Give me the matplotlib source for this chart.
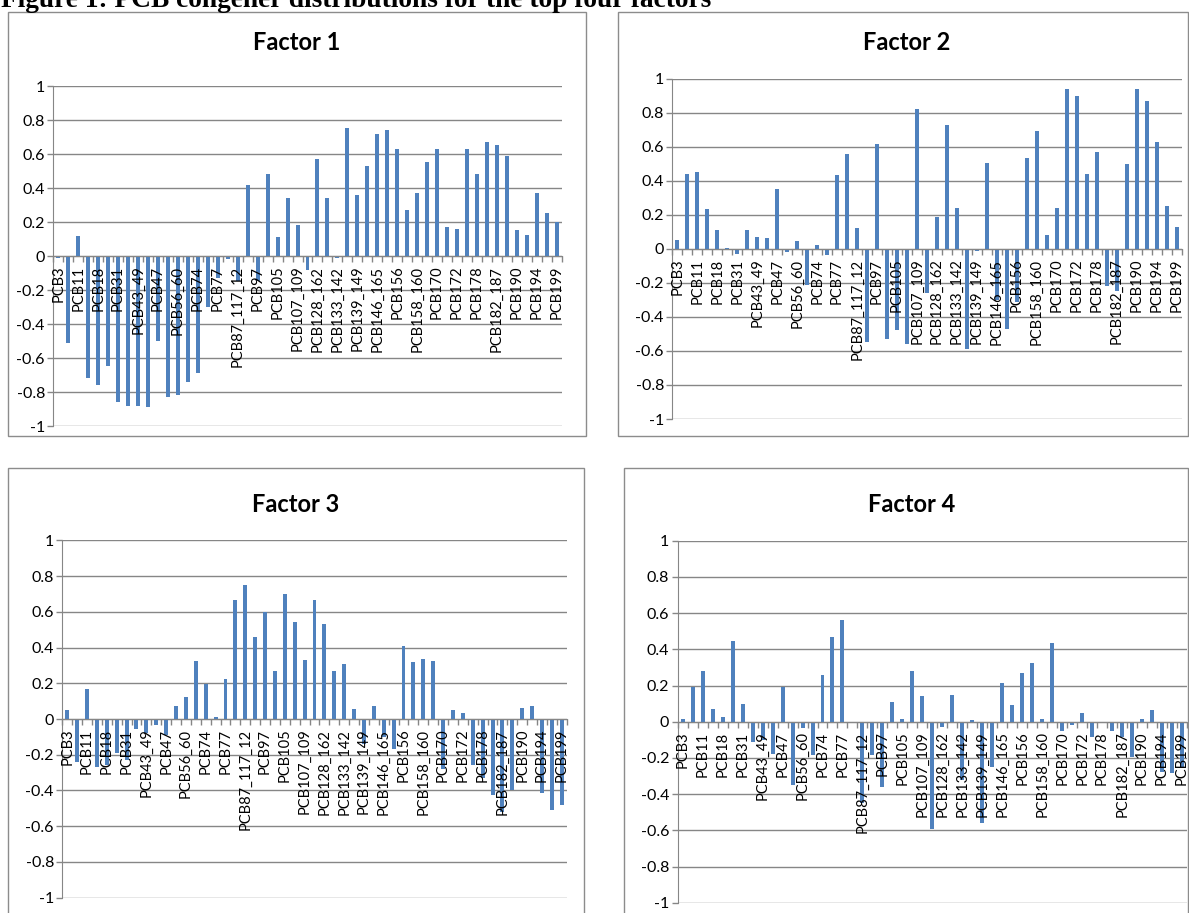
import matplotlib
matplotlib.use('Agg')
import matplotlib.pyplot as plt
from matplotlib.patches import Rectangle

plt.rcParams['font.family'] = ['Lato', 'DejaVu Sans']
plt.rcParams['axes.unicode_minus'] = False

congeners = ['PCB3', 'PCB8', 'PCB11', 'PCB15', 'PCB18', 'PCB28', 'PCB31', 'PCB37',
             'PCB43_49', 'PCB44', 'PCB47', 'PCB52', 'PCB56_60', 'PCB66', 'PCB74', 'PCB75',
             'PCB77', 'PCB81', 'PCB87_117_12', 'PCB95', 'PCB97', 'PCB99', 'PCB105', 'PCB106',
             'PCB107_109', 'PCB118', 'PCB128_162', 'PCB132', 'PCB133_142', 'PCB136',
             'PCB139_149', 'PCB141', 'PCB146_165', 'PCB151', 'PCB156', 'PCB157',
             'PCB158_160', 'PCB167', 'PCB170', 'PCB171', 'PCB172', 'PCB174', 'PCB178',
             'PCB180', 'PCB182_187', 'PCB183', 'PCB190', 'PCB191', 'PCB194', 'PCB195', 'PCB199']

factor1 = [-0.01, -0.51, 0.12, -0.72, -0.76, -0.65, -0.86, -0.88, -0.88, -0.89,
           -0.50, -0.83, -0.82, -0.74, -0.69, -0.30, -0.13, -0.015, -0.15, 0.42,
           -0.15, 0.48, 0.11, 0.34, 0.18, -0.08, 0.57, 0.34, -0.01, 0.755,
           0.36, 0.53, 0.72, 0.74, 0.63, 0.27, 0.37, 0.55, 0.63, 0.17,
           0.16, 0.63, 0.48, 0.67, 0.655, 0.59, 0.15, 0.125, 0.37, 0.25, 0.20]

factor2 = [0.053, 0.44, 0.45, 0.237, 0.11, 0.005, -0.03, 0.11, 0.07, 0.063,
           0.35, -0.017, 0.047, -0.21, 0.025, -0.037, 0.433, 0.56, 0.123, -0.55,
           0.615, -0.527, -0.476, -0.557, 0.82, -0.262, 0.186, 0.727, 0.243, -0.59,
           -0.014, 0.504, -0.30, -0.472, -0.31, 0.533, 0.694, 0.082, 0.243, 0.94,
           0.898, 0.44, 0.567, -0.217, -0.25, 0.498, 0.94, 0.87, 0.63, 0.25, 0.131]

factor3 = [0.05, -0.24, 0.166, -0.27, -0.26, -0.19, -0.23, -0.055, -0.08, -0.035,
           -0.09, 0.07, 0.123, 0.323, 0.198, 0.009, 0.222, 0.664, 0.752, 0.457,
           0.599, 0.27, 0.698, 0.543, 0.33, 0.664, 0.53, 0.27, 0.31, 0.056,
           -0.14, 0.075, -0.10, -0.168, 0.41, 0.317, 0.336, 0.323, -0.28, 0.05,
           0.035, -0.256, -0.33, -0.427, -0.52, -0.395, 0.062, 0.075, -0.414, -0.507, -0.48]

factor4 = [0.017, 0.193, 0.28, 0.068, 0.024, 0.447, 0.1, -0.114, -0.1, -0.18,
           0.193, -0.35, -0.033, -0.185, 0.26, 0.466, 0.56, -0.008, -0.45, -0.186,
           -0.363, 0.11, 0.013, 0.28, 0.142, -0.595, -0.028, 0.147, -0.32, 0.011,
           -0.562, -0.249, 0.215, 0.09, 0.269, 0.322, 0.017, 0.433, -0.052, -0.02,
           0.05, -0.087, -0.007, -0.052, -0.087, -0.197, 0.017, 0.063, -0.276, -0.285, -0.25]

titles = ['Factor 1', 'Factor 2', 'Factor 3', 'Factor 4']
yticks = [-1, -0.8, -0.6, -0.4, -0.2, 0, 0.2, 0.4, 0.6, 0.8, 1]

W, H = 1189, 913
fig = plt.figure(figsize=(W / 100, H / 100), dpi=100)
fig.patch.set_facecolor('white')

BLUE = '#4F81BD'
GREY = '#868686'

# pixel boxes: chart frame (x0, y0, x1, y1), plot area (x0, y0, x1, y1), title centre
frames = [(7.5, 12, 586, 436), (618, 12, 1188, 436), (7.5, 468, 584, 940), (623.5, 468, 1188, 940)]
areas = [(53.3, 86, 561.7, 426), (672.3, 78.7, 1181.7, 419),
         (62.3, 540.3, 566.7, 897.7), (677.7, 540.7, 1187, 902.7)]
tpos = [(297, 42), (907, 42), (296, 504), (912, 504)]


def px(x0, y0, x1, y1):
    return [x0 / W, 1 - y1 / H, (x1 - x0) / W, (y1 - y0) / H]


for i, vals in enumerate([factor1, factor2, factor3, factor4]):
    fx0, fy0, fx1, fy1 = frames[i]
    fig.patches.append(Rectangle((fx0 / W, 1 - fy1 / H), (fx1 - fx0) / W, (fy1 - fy0) / H,
                                 transform=fig.transFigure, fill=False,
                                 edgecolor='#8C8C8C', lw=1.0))
    ax = fig.add_axes(px(*areas[i]))
    ax.set_facecolor('none')
    n = len(congeners)
    ax.bar(range(n), vals, width=0.4, color=BLUE, zorder=2)
    ax.set_xlim(-0.5, n - 0.5)
    ax.set_ylim(-1, 1)

    # spine move first: it rebuilds the ticks
    for s in ['top', 'right']:
        ax.spines[s].set_visible(False)
    ax.spines['bottom'].set_position(('data', 0))
    ax.spines['bottom'].set_color(GREY)
    ax.spines['left'].set_color(GREY)

    # grid below the bars, category labels above them
    ax.yaxis.set_zorder(0.5)
    ax.xaxis.set_zorder(3)
    ax.set_yticks(yticks)
    ax.set_yticklabels(['%g' % v for v in yticks], fontsize=11.5)
    ax.grid(axis='y', color=GREY, lw=1.0)
    ax.tick_params(axis='y', length=4, width=1, color=GREY, pad=2)

    ax.set_xticks([k - 0.5 for k in range(n + 1)])
    ax.set_xticklabels([])
    ax.set_xticks(range(0, n, 2), minor=True)
    ax.set_xticklabels(congeners[::2], minor=True, rotation=90, fontsize=10.5, va='top')
    ax.tick_params(axis='x', which='major', length=4, width=1, color=GREY, direction='out')
    ax.tick_params(axis='x', which='minor', length=0, pad=7)

    tx, ty = tpos[i]
    fig.text(tx / W, 1 - ty / H, titles[i], ha='center', va='center',
             fontsize=17, fontweight='bold')

fig.text(1 / W, 1 - 7 / H, 'Figure 1: PCB congener distributions for the top four factors',
         ha='left', va='baseline', fontsize=19.7, fontweight='bold', family='Liberation Serif')

fig.savefig('out.png', dpi=100)
